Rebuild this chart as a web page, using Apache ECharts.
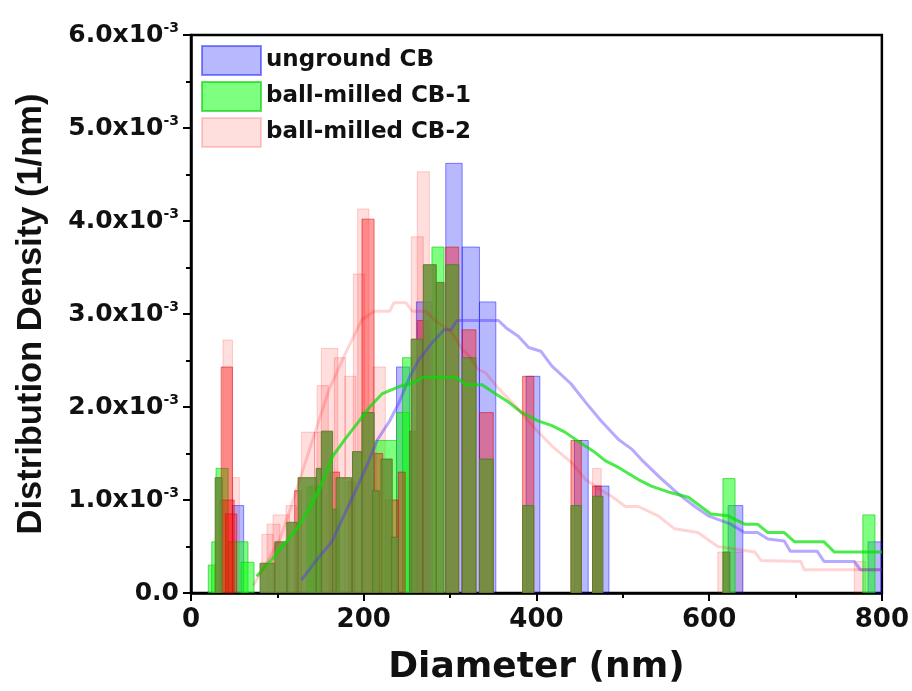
<!DOCTYPE html>
<html>
<head>
<meta charset="utf-8">
<script src="https://cdn.jsdelivr.net/npm/echarts@6/dist/echarts.min.js"></script>
<style>html,body{margin:0;padding:0;background:#fff}#c{width:912px;height:691px}</style>
</head>
<body>
<div id="c"></div>
<script>
// Values in units of 10^-3 (1/nm); bars are [binStart nm, binEnd nm, density]
const yTicks = [0, 1, 2, 3, 4, 5, 6];
const xTicks = [0, 200, 400, 600, 800];

const ungroundBars = [
  [48, 61, 0.94], [238, 253, 2.43], [261, 279, 3.13], [295, 314, 4.62],
  [314, 334, 3.72], [334, 353, 3.13], [388, 404, 2.33], [444, 460, 1.64],
  [468, 484, 1.15], [622, 639, 0.94], [784, 800, 0.55]
];
const milled1Bars = [
  [20, 28, 0.30], [24, 32, 0.55], [29, 43, 1.34], [43, 66, 0.55], [58, 73, 0.33],
  [137, 152, 1.15], [134, 149, 1.14], [214, 238, 1.64], [238, 253, 1.94],
  [245, 256, 2.53], [279, 293, 3.72], [616, 630, 1.23], [778, 792, 0.84]
];
const milled2Bars = [
  [37, 48, 2.72], [48, 56, 1.24], [82, 95, 0.63], [88, 103, 0.74], [95, 114, 0.84],
  [110, 122, 0.94], [128, 143, 1.73], [143, 162, 1.73], [146, 159, 2.23],
  [151, 170, 2.63], [166, 179, 2.53], [178, 191, 2.33], [188, 201, 3.43],
  [193, 206, 4.13], [211, 225, 2.43], [255, 269, 3.83], [262, 276, 4.53],
  [465, 475, 1.34], [610, 639, 0.44], [768, 781, 0.34]
];
const milled2DarkBars = [
  [33, 50, 1.0], [35, 48, 2.43], [40, 53, 0.85], [198, 212, 4.02], [262, 276, 2.93],
  [295, 310, 3.72], [314, 330, 2.83], [334, 350, 1.94], [384, 397, 2.33],
  [440, 452, 1.64], [465, 475, 1.15], [120, 128, 1.1], [160, 172, 1.3],
  [182, 190, 1.2], [212, 222, 1.5], [225, 240, 1.0], [240, 248, 1.3]
];
const overlapBars = [
  [28, 36, 1.24], [80, 97, 0.32], [97, 112, 0.55], [111, 123, 0.76],
  [124, 145, 1.24], [145, 151, 1.34], [151, 164, 1.74], [164, 172, 0.9],
  [168, 186, 1.24], [187, 198, 1.52], [198, 212, 1.94], [210, 218, 1.1],
  [220, 233, 1.44], [232, 240, 0.6], [253, 262, 1.74],
  [255, 268, 2.73], [269, 284, 3.53], [284, 293, 3.34], [295, 310, 3.53],
  [314, 330, 2.53], [334, 350, 1.44], [384, 397, 0.94], [440, 452, 0.94],
  [465, 477, 1.04], [616, 624, 0.44]
];

const ungroundCurve = [
  [128,0.14],[145,0.35],[163,0.55],[178,0.85],[193,1.15],[205,1.4],[216,1.65],[230,1.85],
  [241,2.05],[253,2.32],[264,2.51],[280,2.7],[293,2.83],[301,2.83],[308,2.93],[356,2.93],
  [365,2.85],[379,2.76],[391,2.64],[405,2.6],[418,2.44],[440,2.25],[457,2.05],[475,1.85],
  [495,1.65],[510,1.55],[521,1.44],[541,1.26],[560,1.1],[572,1.01],[585,0.92],[599,0.83],
  [625,0.74],[641,0.65],[656,0.65],[668,0.58],[687,0.56],[694,0.45],[725,0.45],[733,0.34],
  [768,0.34],[775,0.25],[800,0.25]
];
const milled1Curve = [
  [76,0.18],[90,0.32],[103,0.47],[113,0.58],[123,0.69],[136,0.9],[149,1.12],[164,1.47],
  [178,1.65],[193,1.83],[207,2.0],[221,2.14],[241,2.22],[258,2.26],[268,2.32],[307,2.32],
  [318,2.24],[337,2.24],[353,2.14],[368,2.05],[383,1.94],[402,1.85],[418,1.8],[433,1.73],
  [450,1.62],[468,1.51],[480,1.42],[495,1.35],[518,1.22],[533,1.15],[555,1.08],[576,1.03],
  [602,0.85],[622,0.83],[641,0.74],[656,0.74],[668,0.65],[687,0.65],[699,0.55],[733,0.55],
  [745,0.44],[800,0.44]
];
const milled2Curve = [
  [72,0.08],[88,0.33],[103,0.58],[115,0.9],[126,1.22],[141,1.65],[160,2.19],[180,2.6],
  [198,2.94],[212,3.03],[230,3.03],[235,3.12],[249,3.12],[256,3.03],[272,3.03],[284,2.92],
  [299,2.83],[307,2.73],[314,2.62],[322,2.55],[333,2.4],[341,2.37],[356,2.2],[376,2.01],
  [399,1.76],[418,1.58],[441,1.4],[457,1.22],[472,1.12],[487,1.04],[503,0.93],[518,0.93],
  [541,0.83],[560,0.69],[587,0.65],[610,0.5],[653,0.44],[660,0.35],[706,0.34],[710,0.25],
  [800,0.25]
];

function barSeries(name, data, fill, stroke, z) {
  return {
    type: 'custom', name: name, data: data, z: z, clip: true,
    encode: { x: [0, 1], y: 2 },
    itemStyle: { color: fill, borderColor: stroke, borderWidth: 1 },
    renderItem: function (params, api) {
      const p0 = api.coord([api.value(0), api.value(2)]);
      const p1 = api.coord([api.value(1), 0]);
      return {
        type: 'rect',
        shape: { x: p0[0], y: p0[1], width: p1[0] - p0[0], height: p1[1] - p0[1] },
        style: { fill: fill, stroke: stroke, lineWidth: 1 }
      };
    }
  };
}
function lineSeries(name, data, color, z) {
  return {
    type: 'line', name: name, data: data, z: z, symbol: 'none', smooth: false,
    lineStyle: { color: color, width: 3 }, silent: true
  };
}

const chart = echarts.init(document.getElementById('c'), null, { renderer: 'canvas' });
const labelFont = 'DejaVu Sans';
chart.setOption({
  animation: false,
  backgroundColor: '#fff',
  grid: { left: 191, right: 27, top: 35, bottom: 97, show: true, borderColor: '#000', borderWidth: 2.5, backgroundColor: 'transparent' },
  legend: {
    data: ['unground CB', 'ball-milled CB-1', 'ball-milled CB-2'],
    orient: 'vertical', left: 196, top: 40, itemWidth: 59, itemHeight: 29, itemGap: 5,
    icon: 'rect',
    textStyle: { fontFamily: labelFont, fontWeight: 'bold', fontSize: 23, color: '#111' }
  },
  xAxis: {
    type: 'value', min: 0, max: 800, interval: 200,
    name: 'Diameter (nm)', nameLocation: 'middle', nameGap: 57,
    nameTextStyle: { fontFamily: labelFont, fontWeight: 'bold', fontSize: 36, color: '#111', verticalAlign: 'top' },
    axisLine: { lineStyle: { color: '#000', width: 2.5 } },
    axisTick: { show: true, length: 8, lineStyle: { color: '#000', width: 2 } },
    minorTick: { show: true, splitNumber: 2, length: 5, lineStyle: { color: '#000', width: 2 } },
    splitLine: { show: false },
    axisLabel: { margin: 14, fontFamily: labelFont, fontWeight: 'bold', fontSize: 26, color: '#111',
      formatter: function (v) { return xTicks.indexOf(v) >= 0 ? String(v) : ''; } }
  },
  yAxis: {
    type: 'value', min: 0, max: 6, interval: 1,
    name: 'Distribution Density (1/nm)', nameLocation: 'middle', nameGap: 142, nameRotate: 90,
    nameTextStyle: { fontFamily: 'Liberation Sans', fontWeight: 'bold', fontSize: 34.5, color: '#111' },
    axisLine: { lineStyle: { color: '#000', width: 2.5 } },
    axisTick: { show: true, length: 8, lineStyle: { color: '#000', width: 2 } },
    minorTick: { show: true, splitNumber: 2, length: 5, lineStyle: { color: '#000', width: 2 } },
    splitLine: { show: false },
    axisLabel: {
      margin: 12,
      formatter: function (v) {
        if (yTicks.indexOf(v) < 0) return '';
        return v === 0 ? '{a|0.0}' : '{a|' + v.toFixed(1) + 'x10}{b|-3}';
      },
      rich: {
        a: { fontFamily: labelFont, fontWeight: 'bold', fontSize: 25, color: '#111' },
        b: { fontFamily: labelFont, fontWeight: 'bold', fontSize: 14, color: '#111', verticalAlign: 'top', padding: [0, 0, 14, 0] }
      }
    }
  },
  series: [
    barSeries('ball-milled CB-2', milled2Bars, 'rgba(255,0,0,0.13)', 'rgba(255,0,0,0.18)', 1),
    barSeries('unground CB', ungroundBars, 'rgba(0,0,255,0.28)', 'rgba(0,0,255,0.45)', 2),
    barSeries('ball-milled CB-1', milled1Bars, 'rgba(0,255,0,0.5)', 'rgba(0,200,0,0.6)', 3),
    barSeries('milled CB-2 (overlap)', milled2DarkBars, 'rgba(255,0,0,0.38)', 'rgba(220,0,0,0.5)', 4),
    barSeries('overlap', overlapBars, 'rgba(105,145,55,0.88)', 'rgba(90,120,40,0.9)', 5),
    lineSeries('unground CB fit', ungroundCurve, 'rgba(80,50,255,0.42)', 6),
    lineSeries('ball-milled CB-1 fit', milled1Curve, 'rgba(0,225,0,0.7)', 7),
    lineSeries('ball-milled CB-2 fit', milled2Curve, 'rgba(255,0,0,0.17)', 8)
  ]
});
</script>
</body>
</html>
